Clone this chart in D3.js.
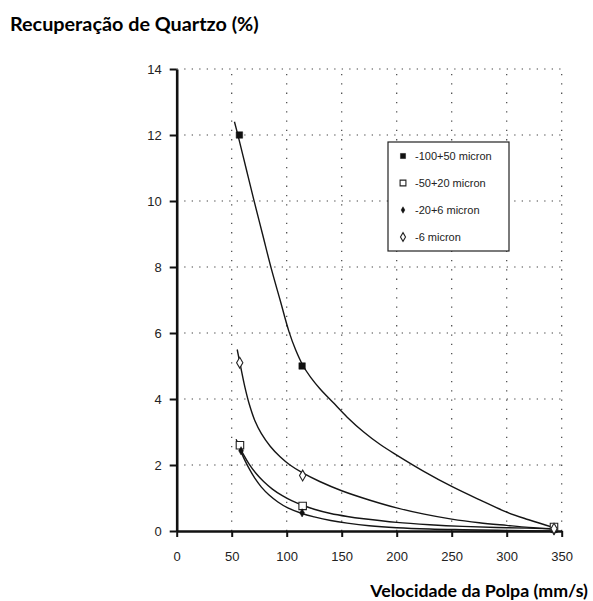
<!DOCTYPE html>
<html>
<head>
<meta charset="utf-8">
<script src="https://cdn.jsdelivr.net/npm/d3@7"></script>
<style>
  body { margin: 0; background: #fff; }
  svg { display: block; }
</style>
</head>
<body>
<svg id="chart" width="593" height="601"></svg>
<script>
// Axis ticks
const xTicks = [0, 50, 100, 150, 200, 250, 300, 350];
const yTicks = [0, 2, 4, 6, 8, 10, 12, 14];

// Series names (legend order)
const seriesNames = ["-100+50 micron", "-50+20 micron", "-20+6 micron", "-6 micron"];

// Measured points: [pulp velocity (mm/s), quartz recovery (%)]
const pts100_50 = [[57, 12.0], [114, 5.0], [343, 0.05]];
const pts50_20  = [[57.5, 2.6], [114.5, 0.76], [343, 0.12]];
const pts20_6   = [[58.5, 2.43], [114, 0.55], [343, 0.0]];
const pts6      = [[57.3, 5.1], [114.5, 1.68], [343, 0.07]];

// Fitted trend curves, sampled along each line
const fit100_50 = [[52.5, 12.4], [56, 11.95], [63, 11.0], [70, 10.05], [78, 9.0], [86, 7.95], [94, 7.0],
                   [102, 6.05], [108, 5.5], [115, 5.0], [122, 4.65], [130, 4.32], [142, 3.9], [155, 3.45],
                   [170, 3.0], [185, 2.62], [200, 2.3], [225, 1.8], [250, 1.35], [275, 0.95], [300, 0.57],
                   [320, 0.34], [343, 0.1]];
const fit50_20  = [[54, 2.78], [57, 2.56], [61, 2.3], [66, 2.02], [72, 1.75], [79, 1.5], [87, 1.27],
                   [96, 1.07], [105, 0.91], [114.5, 0.78], [125, 0.66], [140, 0.53], [155, 0.44],
                   [170, 0.37], [200, 0.26], [230, 0.19], [260, 0.14], [300, 0.1], [343, 0.07]];
const fit20_6   = [[57, 2.52], [59, 2.36], [62, 2.14], [66, 1.88], [71, 1.6], [77, 1.33], [84, 1.09],
                   [92, 0.88], [101, 0.7], [114, 0.53], [125, 0.43], [140, 0.32], [155, 0.24],
                   [175, 0.16], [200, 0.1], [230, 0.06], [260, 0.04], [300, 0.02], [343, 0.0]];
const fit6      = [[55, 5.5], [58, 5.0], [62, 4.36], [66, 3.84], [71, 3.35], [77, 2.95], [85, 2.57],
                   [94, 2.25], [103, 2.0], [114.5, 1.76], [130, 1.5], [150, 1.22], [175, 0.94],
                   [200, 0.7], [225, 0.51], [250, 0.36], [275, 0.25], [300, 0.17], [320, 0.11], [343, 0.06]];

const seriesPoints = [pts100_50, pts50_20, pts20_6, pts6];
const seriesFits = [fit100_50, fit50_20, fit20_6, fit6];

const svg = d3.select("#chart");
const x = d3.scaleLinear().domain([0, 350]).range([176.7, 561.7]);
const y = d3.scaleLinear().domain([0, 14]).range([531, 69]);

// Dotted grid
const grid = svg.append("g").attr("stroke", "#444").attr("stroke-width", 1.2)
  .attr("stroke-dasharray", "1.3,6.2").attr("fill", "none");
grid.selectAll(".gy").data(yTicks.filter(d => d > 0)).join("line")
  .attr("x1", x(0)).attr("x2", x(350)).attr("y1", d => y(d)).attr("y2", d => y(d));
grid.selectAll(".gx").data(xTicks.filter(d => d > 0)).join("line")
  .attr("x1", d => x(d)).attr("x2", d => x(d)).attr("y1", y(0)).attr("y2", y(14))
  .attr("stroke-dasharray", "1.3,8");

// Axes
const tickFont = "'Liberation Sans', Arial, sans-serif";
const yAxis = svg.append("g").attr("transform", `translate(${x(0)},0)`)
  .call(d3.axisLeft(y).tickValues(yTicks).tickSize(7).tickPadding(8).tickSizeOuter(0));
const xAxis = svg.append("g").attr("transform", `translate(0,${y(0)})`)
  .call(d3.axisBottom(x).tickValues(xTicks).tickSize(6).tickPadding(15).tickSizeOuter(0));
[yAxis, xAxis].forEach(ax => {
  ax.select(".domain").attr("stroke", "#111").attr("stroke-width", 2.6);
  ax.selectAll(".tick line").attr("stroke", "#111").attr("stroke-width", 2);
  ax.selectAll(".tick text").attr("fill", "#222").style("font-family", tickFont).style("font-size", "13px");
});

// Trend curves
const line = d3.line().x(d => x(d[0])).y(d => y(d[1])).curve(d3.curveCatmullRom.alpha(0.5));
svg.append("g").selectAll("path").data(seriesFits).join("path")
  .attr("d", line).attr("fill", "none").attr("stroke", "#151515").attr("stroke-width", 1.4);

// Marker styles per series
const markerStyles = [
  { type: d3.symbolSquare,  size: 42, legendSize: 26, fill: "#111", stroke: "#111", sw: 0.5 },
  { type: d3.symbolSquare,  size: 56, legendSize: 34, fill: "#fff", stroke: "#222", sw: 1.1 },
  { type: d3.symbolDiamond, size: 20, legendSize: 12, fill: "#111", stroke: "#111", sw: 0.5 },
  { type: d3.symbolDiamond, size: 34, legendSize: 22, fill: "#fff", stroke: "#222", sw: 1.1 }
];

seriesPoints.forEach((pts, i) => {
  const st = markerStyles[i];
  svg.append("g").selectAll("path").data(pts).join("path")
    .attr("transform", d => `translate(${x(d[0])},${y(d[1])})`)
    .attr("d", d3.symbol().type(st.type).size(st.size))
    .attr("fill", st.fill).attr("stroke", st.stroke).attr("stroke-width", st.sw);
});

// Legend
const legend = svg.append("g");
legend.append("rect").attr("x", 388).attr("y", 142).attr("width", 121).attr("height", 109)
  .attr("fill", "#fff").attr("stroke", "#222").attr("stroke-width", 1.2);
seriesNames.forEach((name, i) => {
  const st = markerStyles[i];
  const ly = 156 + i * 27;
  legend.append("path").attr("transform", `translate(403,${ly})`)
    .attr("d", d3.symbol().type(st.type).size(st.legendSize))
    .attr("fill", st.fill).attr("stroke", st.stroke).attr("stroke-width", st.sw);
  legend.append("text").attr("x", 415).attr("y", ly).attr("dy", "0.35em")
    .style("font-family", tickFont).style("font-size", "11px").attr("fill", "#222").text(name);
});

// Axis titles
const titleFont = "Lato, 'Open Sans', sans-serif";
svg.append("text").attr("x", 10).attr("y", 31)
  .style("font-family", titleFont).style("font-weight", "700").style("font-size", "19.8px")
  .attr("fill", "#000").text("Recuperação de Quartzo (%)");
svg.append("text").attr("x", 588).attr("y", 597).attr("text-anchor", "end")
  .style("font-family", titleFont).style("font-weight", "700").style("font-size", "17.8px")
  .attr("fill", "#000").text("Velocidade da Polpa (mm/s)");
</script>
</body>
</html>
